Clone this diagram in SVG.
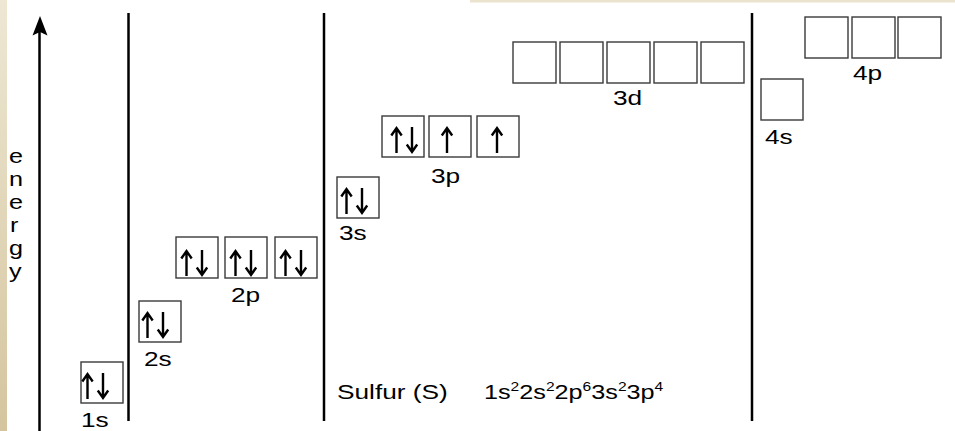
<svg xmlns="http://www.w3.org/2000/svg" xmlns:xlink="http://www.w3.org/1999/xlink" width="955" height="431" viewBox="0 0 955 431">
<defs>
<linearGradient id="strip" x1="0" y1="0" x2="0" y2="1">
<stop offset="0" stop-color="#eee7d4"/>
<stop offset="1" stop-color="#d4c59e"/>
</linearGradient>
<g id="up"><path d="M5.5,1 V26 M0.3,8.5 L5.5,1 L10.7,8.5"/></g>
<g id="dn"><path d="M5.5,0 V25 M0.3,17.5 L5.5,25 L10.7,17.5"/></g>
<g id="pair"><use xlink:href="#up"/><use xlink:href="#dn" x="15.5"/></g>
</defs>
<style>
.box{fill:#fff;stroke:#3a3a3a;stroke-width:1.4}
.arr{fill:none;stroke:#000;stroke-width:2.4;stroke-linejoin:miter}
.sep{stroke:#000;stroke-width:2.5}
.lbl{font-family:"Liberation Sans",Arial,sans-serif;font-size:21px;fill:#000}
.sup{font-size:13px}
</style>
<rect width="955" height="431" fill="#fff"/>
<rect x="0" y="0" width="7" height="431" fill="url(#strip)"/>
<rect x="470" y="0" width="485" height="2.5" fill="#ebe3cd"/>

<g id="connectors">
<line class="sep" x1="39.5" y1="30" x2="39.5" y2="431"/>
<path d="M40,16 L47.5,35.5 L40,32 L32.5,35.5 Z" fill="#000"/>
<line class="sep" x1="128.5" y1="13" x2="128.5" y2="421"/>
<line class="sep" x1="324" y1="13" x2="324" y2="421"/>
<line class="sep" x1="752" y1="13" x2="752" y2="421"/>
</g>

<g id="energy-label" class="lbl">
<text transform="translate(9 163) scale(1.2 1)">e</text>
<text transform="translate(9 186) scale(1.2 1)">n</text>
<text transform="translate(9 209) scale(1.2 1)">e</text>
<text transform="translate(10 232) scale(1.2 1)">r</text>
<text transform="translate(9 255) scale(1.2 1)">g</text>
<text transform="translate(9 278) scale(1.2 1)">y</text>
</g>

<g id="orb-1s">
<rect class="box" x="81" y="362" width="42" height="41"/>
<use class="arr" xlink:href="#pair" x="82" y="373"/>
<text class="lbl" transform="translate(81 427) scale(1.25 1)">1s</text>
</g>

<g id="orb-2s">
<rect class="box" x="139" y="301" width="42" height="41"/>
<use class="arr" xlink:href="#pair" x="142" y="312"/>
<text class="lbl" transform="translate(144 366) scale(1.25 1)">2s</text>
</g>

<g id="orb-2p">
<rect class="box" x="176" y="237" width="42" height="41"/>
<rect class="box" x="225" y="237" width="42" height="41"/>
<rect class="box" x="275" y="237" width="42" height="41"/>
<use class="arr" xlink:href="#pair" x="181" y="250"/>
<use class="arr" xlink:href="#pair" x="230" y="250"/>
<use class="arr" xlink:href="#pair" x="280" y="250"/>
<text class="lbl" transform="translate(231 302) scale(1.25 1)">2p</text>
</g>

<g id="orb-3s">
<rect class="box" x="337" y="177" width="42" height="41"/>
<use class="arr" xlink:href="#pair" x="341" y="188"/>
<text class="lbl" transform="translate(339 240) scale(1.25 1)">3s</text>
</g>

<g id="orb-3p">
<rect class="box" x="382" y="116" width="42" height="41"/>
<rect class="box" x="429" y="116" width="42" height="41"/>
<rect class="box" x="477" y="116" width="42" height="41"/>
<use class="arr" xlink:href="#pair" x="391" y="127"/>
<use class="arr" xlink:href="#up" x="441.5" y="127"/>
<use class="arr" xlink:href="#up" x="491.5" y="127"/>
<text class="lbl" transform="translate(431 183) scale(1.25 1)">3p</text>
</g>

<g id="orb-3d">
<rect class="box" x="513" y="42" width="43" height="41"/>
<rect class="box" x="560" y="42" width="43" height="41"/>
<rect class="box" x="607" y="42" width="43" height="41"/>
<rect class="box" x="654" y="42" width="43" height="41"/>
<rect class="box" x="701" y="42" width="43" height="41"/>
<text class="lbl" transform="translate(613 105) scale(1.25 1)">3d</text>
</g>

<g id="orb-4s">
<rect class="box" x="761" y="79" width="42" height="41"/>
<text class="lbl" transform="translate(765 144) scale(1.25 1)">4s</text>
</g>

<g id="orb-4p">
<rect class="box" x="805" y="17" width="43" height="41"/>
<rect class="box" x="852" y="17" width="43" height="41"/>
<rect class="box" x="898" y="17" width="43" height="41"/>
<text class="lbl" transform="translate(853 80) scale(1.25 1)">4p</text>
</g>

<g id="caption">
<text class="lbl" transform="translate(337 399) scale(1.25 1)">Sulfur (S)</text>
<text class="lbl" transform="translate(484 399) scale(1.2 1)">1s<tspan class="sup" dy="-8">2</tspan><tspan dy="8">2s</tspan><tspan class="sup" dy="-8">2</tspan><tspan dy="8">2p</tspan><tspan class="sup" dy="-8">6</tspan><tspan dy="8">3s</tspan><tspan class="sup" dy="-8">2</tspan><tspan dy="8">3p</tspan><tspan class="sup" dy="-8">4</tspan></text>
</g>
</svg>
